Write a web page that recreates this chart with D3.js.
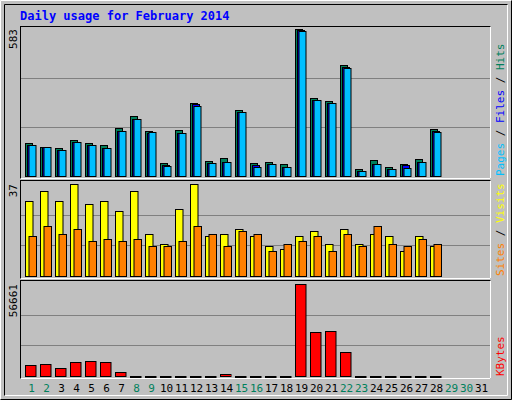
<!DOCTYPE html>
<html><head><meta charset="utf-8">
<script src="https://cdn.jsdelivr.net/npm/d3@7"></script>
<style>body{margin:0;background:#fff}svg{display:block}text{font-family:"DejaVu Sans Mono",monospace}</style>
</head><body>
<script>
const days = d3.range(1, 32);
const weekend = [1, 2, 8, 9, 15, 16, 22, 23, 29, 30];
const hits  = [132,116,112,144,132,124,191,239,180,53,183,290,61,73,263,53,57,49,583,310,298,441,29,65,37,49,69,187,0,0,0];
const files = [124,116,102,136,124,112,180,228,169,42,172,284,53,57,255,42,49,37,579,302,290,432,18,49,29,42,57,180,0,0,0];
const pages = [124,116,104,136,124,112,180,228,175,41,172,278,53,57,255,37,49,37,575,302,290,429,21,49,29,33,57,175,0,0,0];
const visits = [30,34,30,37,29,30,26,34,17,13,27,37,16,17,19,16,12,11,16,18,13,19,13,17,16,10,16,12,0,0,0];
const sites  = [16,20,17,19,14,15,14,15,12,12,14,20,17,12,18,17,10,13,14,16,10,17,12,20,13,12,15,13,0,0,0];
const kbytes = [7031,7651,5170,8892,9512,8892,2688,250,250,250,250,250,250,1448,250,250,250,250,56661,26883,27503,14475,250,250,250,250,250,250,0,0,0];

const W = 512, H = 400;
const svg = d3.select("body").append("svg").attr("width", W).attr("height", H);

// frame
svg.append("rect").attr("width", W).attr("height", H).attr("fill", "#c0c0c0");
svg.append("path").attr("d", "M0.5,399.5V0.5H511.5").attr("stroke", "#fff").attr("fill", "none");
svg.append("path").attr("d", "M0.5,399.5H511.5V0.5").attr("stroke", "#000").attr("fill", "none");
svg.append("path").attr("d", "M4.5,395.5H507.5V4.5").attr("stroke", "#fff").attr("fill", "none");
svg.append("path").attr("d", "M4.5,395.5V4.5H507.5").attr("stroke", "#000").attr("fill", "none");

svg.append("text").attr("x", 20).attr("y", 20).attr("fill", "#0000ff")
  .attr("font-weight", "bold").attr("font-size", 12).text("Daily usage for February 2014");

const x = d3.scaleBand().domain(days).range([22, 487]).paddingInner(0);

const panels = [
  {top: 26, bottom: 178, max: 583, y0: 29, label: "583"},
  {top: 180, bottom: 278, max: 37, y0: 184, label: "37"},
  {top: 280, bottom: 378, max: 56661, y0: 284, label: "56661"}
];

panels.forEach(p => {
  svg.append("rect").attr("x", 20.5).attr("y", p.top + 0.5).attr("width", 470).attr("height", p.bottom - p.top)
    .attr("fill", "#c0c0c0").attr("stroke", "#000");
  svg.append("path").attr("d", `M20.5,${p.bottom + 0.5}H490.5V${p.top + 0.5}`).attr("stroke", "#fff").attr("fill", "none");
  p.y = d3.scaleLinear().domain([0, p.max]).range([p.bottom - 2, p.y0]);
  [1 / 3, 2 / 3].forEach(f => {
    const gy = Math.round(p.y(p.max * f)) + 0.5;
    svg.append("line").attr("x1", 21).attr("x2", 490).attr("y1", gy).attr("y2", gy).attr("stroke", "#808080");
  });
  svg.append("text").attr("transform", `translate(17,${p.y0}) rotate(-90)`).attr("text-anchor", "end")
    .attr("font-size", 11).attr("fill", "#000").text(p.label);
});

function bars(vals, panel, dx, w, color) {
  const y = panel.y;
  svg.append("g").selectAll("rect").data(days.filter((d, i) => vals[i] > 0)).join("rect")
    .attr("x", d => x(d) + dx + 0.5)
    .attr("y", d => Math.round(y(vals[d - 1])) + 0.5)
    .attr("width", w)
    .attr("height", d => Math.max(1, y(0) - Math.round(y(vals[d - 1]))))
    .attr("fill", color).attr("stroke", "#000");
}

bars(hits, panels[0], 3, 7, "#00805c");
bars(files, panels[0], 5, 7, "#0000ff");
bars(pages, panels[0], 6.5, 7, "#00c0ff");
bars(visits, panels[1], 3, 7.5, "#ffff00");
bars(sites, panels[1], 6.5, 7.5, "#ff8000");
bars(kbytes, panels[2], 3, 10.5, "#ff0000");

svg.append("g").selectAll("text").data(days).join("text")
  .attr("x", d => x(d) + x.bandwidth() / 2 + 2).attr("y", 392).attr("text-anchor", "middle")
  .attr("font-size", 11).attr("fill", d => weekend.includes(d) ? "#00805c" : "#000").text(d => d);

function sideLabel(parts, yEnd) {
  const t = svg.append("text").attr("transform", `translate(504,${yEnd}) rotate(-90)`)
    .attr("font-size", 11).attr("text-anchor", "start");
  parts.forEach(([s, c]) => t.append("tspan").attr("fill", c).text(s));
}
sideLabel([["Pages", "#00c0ff"], [" / ", "#000"], ["Files", "#0000ff"], [" / ", "#000"], ["Hits", "#00805c"]], 176);
sideLabel([["Sites", "#ff8000"], [" / ", "#000"], ["Visits", "#ffff00"]], 276);
sideLabel([["KBytes", "#ff0000"]], 376);
</script>
</body></html>
